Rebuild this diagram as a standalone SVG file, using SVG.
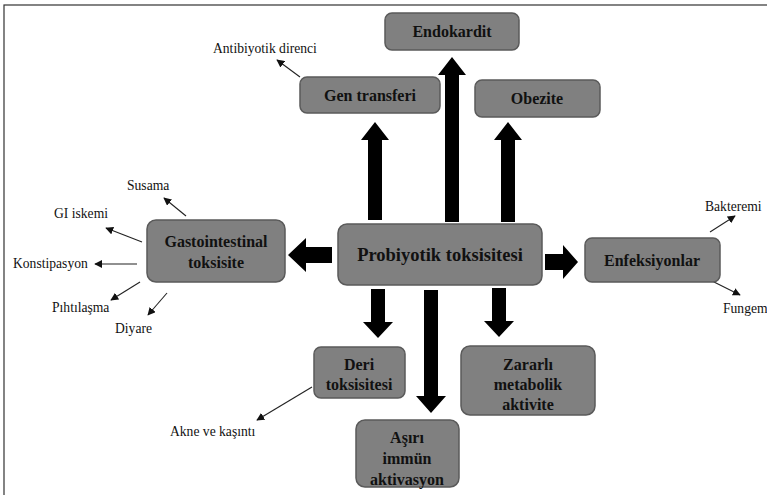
<svg xmlns="http://www.w3.org/2000/svg" width="767" height="495" viewBox="0 0 767 495">
<style>
.box{fill:#808080;stroke:#5a5a5a;stroke-width:1.5}
text{font-family:'Liberation Serif','Times New Roman','DejaVu Serif',serif;fill:#111}
.t{font-weight:bold;font-size:16px;text-anchor:middle}
.tb{font-weight:bold;font-size:18.5px;text-anchor:middle}
.s{font-size:13.6px}
.thin{stroke:#222;stroke-width:1.1;fill:none;marker-end:url(#ah)}
.big{fill:#000}
</style>
<defs>
<marker id="ah" viewBox="0 0 10 10" refX="9" refY="5" markerWidth="8" markerHeight="8" markerUnits="userSpaceOnUse" orient="auto">
<path d="M0,0 L10,5 L0,10 z" fill="#111"/>
</marker>
</defs>
<rect x="0" y="0" width="767" height="495" fill="#fff"/>
<rect x="4" y="5" width="800" height="520" fill="none" stroke="#333" stroke-width="1.2"/>
<g id="connectors">
<path class="big" d="M445,222 V75 H438 L452,57 L466,75 H459 V222 Z"/>
<path class="big" d="M368,220 V140 H361 L375,122 L389,140 H382 V220 Z"/>
<path class="big" d="M501,222 V140 H494 L508,122 L522,140 H515 V222 Z"/>
<path class="big" d="M332,247 H306 V238 L288,255 L306,272 V263 H332 Z"/>
<path class="big" d="M545,254 H563 V245 L578,262 L563,279 V270 H545 Z"/>
<path class="big" d="M371,289 V322 H363 L378,338 L393,322 H385 V289 Z"/>
<path class="big" d="M424,290 V396 H416 L431,413 L446,396 H438 V290 Z"/>
<path class="big" d="M492,288 V321 H484 L499,337 L514,321 H506 V288 Z"/>
<path class="thin" d="M300,77 L277,60"/>
<path class="thin" d="M710,232 L735,216"/>
<path class="thin" d="M708,279 L740,295"/>
<path class="thin" d="M186,216 L164,198"/>
<path class="thin" d="M142,242 L106,228"/>
<path class="thin" d="M137,264 L95,264"/>
<path class="thin" d="M140,282 L111,300"/>
<path class="thin" d="M167,293 L148,315"/>
<path class="thin" d="M312,387 L257,420"/>
</g>
<g id="endokardit"><rect class="box" x="385" y="13" width="134" height="37" rx="7"/><text class="t" x="452" y="37">Endokardit</text></g>
<g id="gen-transferi"><rect class="box" x="300" y="77" width="140" height="36" rx="7"/><text class="t" x="370" y="101">Gen transferi</text></g>
<g id="obezite"><rect class="box" x="475" y="80" width="125" height="37" rx="7"/><text class="t" x="537" y="104">Obezite</text></g>
<g id="probiyotik"><rect class="box" x="338" y="224" width="204" height="61" rx="9"/><text class="tb" x="440" y="261">Probiyotik toksisitesi</text></g>
<g id="gastro"><rect class="box" x="147" y="220" width="138" height="62" rx="9"/><text class="t" x="216" y="247">Gastointestinal</text><text class="t" x="216" y="268">toksisite</text></g>
<g id="enfeksiyonlar"><rect class="box" x="585" y="238" width="135" height="44" rx="7"/><text class="t" x="652" y="266">Enfeksiyonlar</text></g>
<g id="deri"><rect class="box" x="314" y="347" width="91" height="51" rx="7"/><text class="t" x="359" y="370">Deri</text><text class="t" x="359" y="390">toksisitesi</text></g>
<g id="zararli"><rect class="box" x="461" y="346" width="134" height="69" rx="9"/><text class="t" x="528" y="370">Zararlı</text><text class="t" x="528" y="390">metabolik</text><text class="t" x="528" y="410">aktivite</text></g>
<g id="asiri"><rect class="box" x="356" y="420" width="103" height="67" rx="9"/><text class="t" x="407" y="443">Aşırı</text><text class="t" x="407" y="464">immün</text><text class="t" x="407" y="485">aktivasyon</text></g>
<g id="labels">
<text class="s" x="213" y="53">Antibiyotik direnci</text>
<text class="s" x="705" y="211">Bakteremi</text>
<text class="s" x="723" y="313">Fungem</text>
<text class="s" x="127" y="190">Susama</text>
<text class="s" x="54" y="218">GI iskemi</text>
<text class="s" x="13" y="268">Konstipasyon</text>
<text class="s" x="52" y="312">Pıhtılaşma</text>
<text class="s" x="115" y="333">Diyare</text>
<text class="s" x="170" y="436">Akne ve kaşıntı</text>
</g>
</svg>
